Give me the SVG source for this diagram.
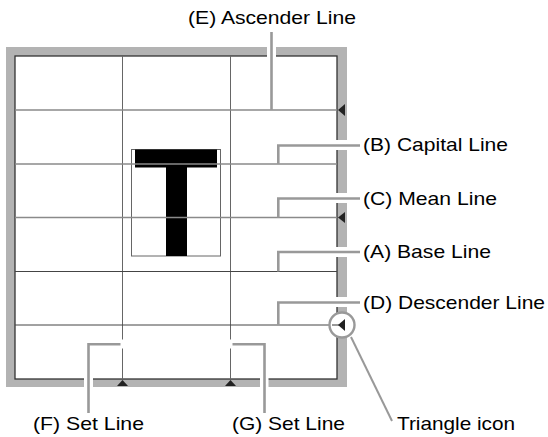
<svg xmlns="http://www.w3.org/2000/svg" width="548" height="437" viewBox="0 0 548 437">
<style>
text{font-family:"Liberation Sans",Arial,Helvetica,sans-serif;font-size:18.5px;fill:#000}
.lead{fill:none;stroke:#999;stroke-width:2.6}
.gap{fill:#fff}
.hl{stroke:#8a8a8a;stroke-width:1.3}
.hd{stroke:#444;stroke-width:1}
.vl{stroke:#666;stroke-width:1}
.tri{fill:#222}
</style>
<rect width="548" height="437" fill="#fff"/>
<g id="frame">
<rect x="6" y="47" width="341" height="340" fill="#b3b3b3"/>
<rect x="15" y="56" width="322" height="323" fill="#fff" stroke="#333" stroke-width="1.3"/>
</g>
<g id="glyph-T">
<rect x="131.5" y="149.5" width="89" height="106.5" fill="none" stroke="#666" stroke-width="1"/>
<rect x="135" y="149.5" width="82" height="18" fill="#000"/>
<rect x="166" y="167" width="21" height="89" fill="#000"/>
</g>
<g id="grid">
<line class="vl" x1="122.5" y1="56" x2="122.5" y2="379"/>
<line class="vl" x1="230.5" y1="56" x2="230.5" y2="379"/>
<line class="hl" x1="15" y1="110" x2="337" y2="110"/>
<line class="hl" x1="15" y1="164" x2="337" y2="164"/>
<line class="hl" x1="15" y1="217.5" x2="337" y2="217.5"/>
<line class="hd" x1="15" y1="271.5" x2="337" y2="271.5"/>
<line class="hd" x1="15" y1="325" x2="338" y2="325"/>
</g>
<g id="frame-gaps">
<rect class="gap" x="267" y="46" width="9" height="11"/>
<rect class="gap" x="336" y="140" width="12" height="10"/>
<rect class="gap" x="336" y="193" width="12" height="10"/>
<rect class="gap" x="336" y="247" width="12" height="10"/>
<rect class="gap" x="336" y="297" width="12" height="10"/>
<rect class="gap" x="84" y="378" width="9" height="10"/>
<rect class="gap" x="260" y="378" width="8.5" height="10"/>
<rect class="gap" x="120.5" y="339.5" width="4" height="9"/>
<rect class="gap" x="228.5" y="339.5" width="4" height="9"/>
</g>
<g id="triangle-icons">
<polygon class="tri" points="338,110 345,104 345,116"/>
<polygon class="tri" points="338,217.5 345,212 345,223"/>
<polygon class="tri" points="117,386 128,386 122.5,380"/>
<polygon class="tri" points="225,386 236,386 230.5,380"/>
<circle cx="342" cy="325" r="12.5" fill="#fff" stroke="#999" stroke-width="2.4"/>
<line x1="332" y1="325" x2="339" y2="325" stroke="#333" stroke-width="1"/>
<polygon class="tri" points="338,325 345,319 345,331"/>
</g>
<g id="connectors">
<polyline class="lead" points="271.5,32 271.5,110"/>
<polyline class="lead" points="278.3,164 278.3,145.5 360,145.5"/>
<polyline class="lead" points="278.3,217.5 278.3,198.5 360,198.5"/>
<polyline class="lead" points="278.3,271.5 278.3,252 360,252"/>
<polyline class="lead" points="278.3,325 278.3,302.5 360,302.5"/>
<polyline class="lead" points="88.5,413 88.5,344.3 120.5,344.3"/>
<polyline class="lead" points="232.5,344.3 264.5,344.3 264.5,413"/>
<line x1="351" y1="337" x2="392" y2="421" stroke="#999" stroke-width="2"/>
</g>
<g id="label-E"><text x="188" y="23.5" textLength="168" lengthAdjust="spacingAndGlyphs">(E) Ascender Line</text></g>
<g id="label-B"><text x="363" y="151" textLength="145" lengthAdjust="spacingAndGlyphs">(B) Capital Line</text></g>
<g id="label-C"><text x="363" y="204.5" textLength="134" lengthAdjust="spacingAndGlyphs">(C) Mean Line</text></g>
<g id="label-A"><text x="363" y="257.5" textLength="128" lengthAdjust="spacingAndGlyphs">(A) Base Line</text></g>
<g id="label-D"><text x="363" y="309" textLength="182" lengthAdjust="spacingAndGlyphs">(D) Descender Line</text></g>
<g id="label-F"><text x="33" y="429.5" textLength="111" lengthAdjust="spacingAndGlyphs">(F) Set Line</text></g>
<g id="label-G"><text x="232" y="429.5" textLength="113" lengthAdjust="spacingAndGlyphs">(G) Set Line</text></g>
<g id="label-tri"><text x="397" y="430" textLength="118" lengthAdjust="spacingAndGlyphs">Triangle icon</text></g>
</svg>
